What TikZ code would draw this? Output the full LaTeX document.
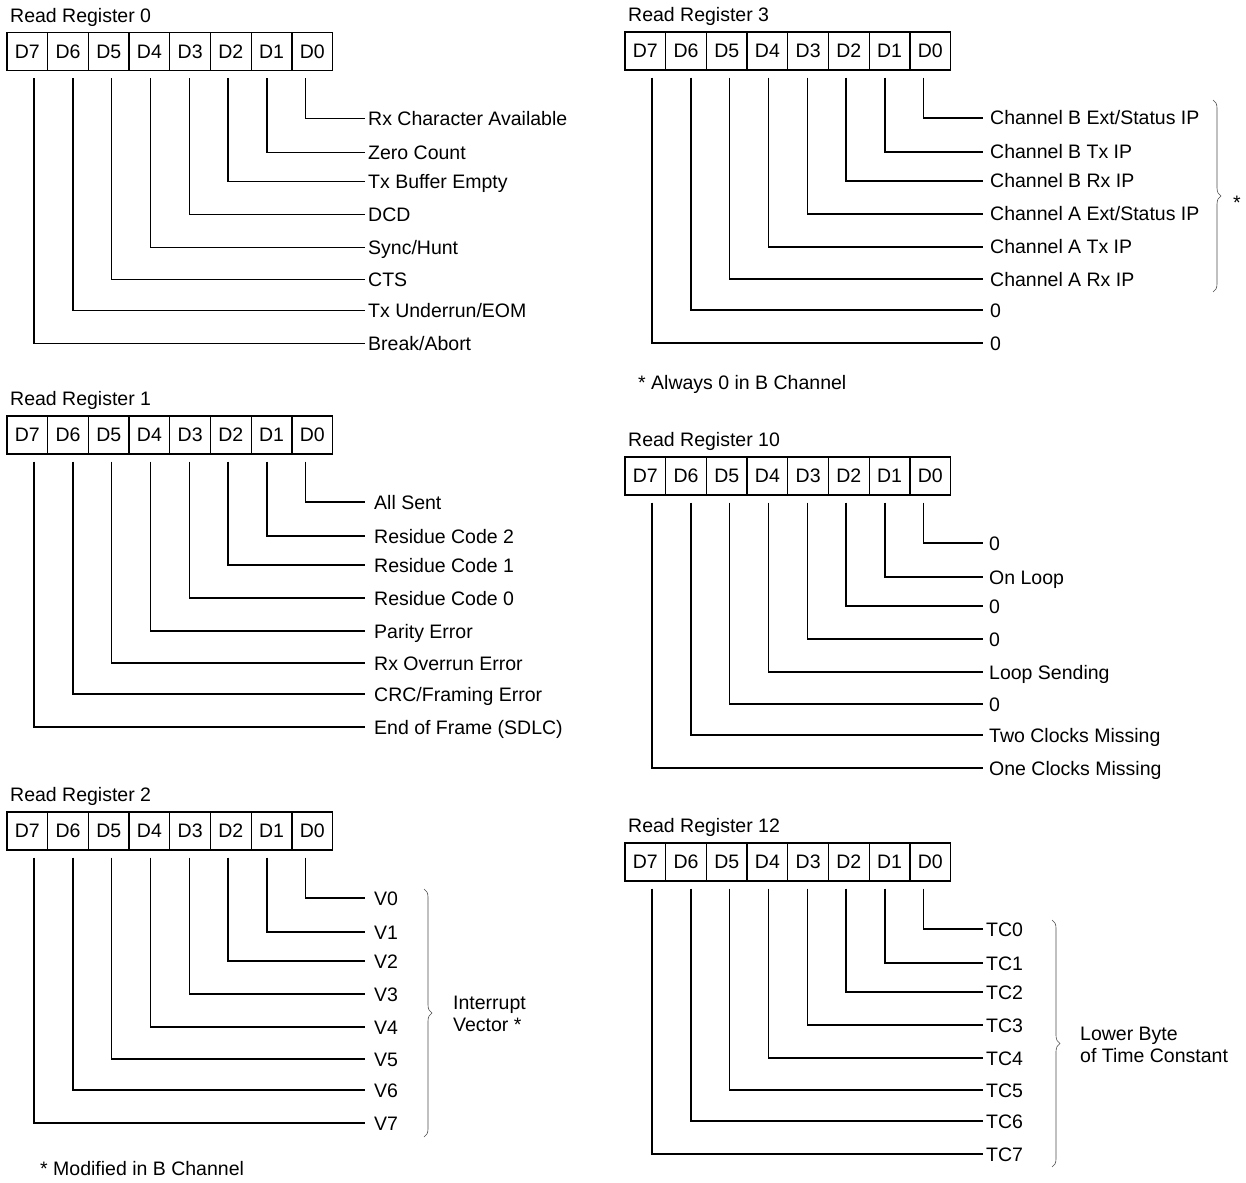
\documentclass[tikz,border=0pt]{standalone}
\usepackage{fontspec}
\setmainfont{Liberation Sans}
\usetikzlibrary{positioning,decorations.pathreplacing}

% one read register: id, x, y of box centre, number, gap, labels D0..D7
\newcommand{\readreg}[6]{%
  \node[regtitle,anchor=base west] (#1t) at (#2+3,#3-29.5) {Read Register #4};
  \foreach \b [count=\i from 0] in {7,...,0}
    \node[cell] (#1d\b) at (#2+20.35+40.7*\i,#3) {D\b};
  \foreach \txt [count=\k from 0] in {#6} {
    \pgfmathsetmacro\off{{67,101,130,163,196,228,259,292}[\k]}
    \node[bitlbl,inner xsep=#5pt] (#1l\k) at (#2+358,#3+\off) {\txt};
    \draw[leg] ([xshift={(\k-3.5)*1.9},yshift=-7pt]#1d\k.south) |- (#1l\k.west);
  }
}

\begin{document}
\begin{tikzpicture}[x=1pt,y=-1pt,
    font=\fontsize{19.5}{22}\selectfont,
    cell/.style={draw,line width=1.3pt,minimum width=40.7pt,minimum height=38pt,
      inner sep=0pt},
    regtitle/.style={inner sep=0pt},
    bitlbl/.style={anchor=west,inner ysep=0pt,text height=14pt,text depth=0pt},
    leg/.style={line width=1.4pt},
    brc/.style={decorate,decoration={brace,amplitude=8pt},
      line width=0.6pt,draw=black!70},
    note/.style={anchor=west,inner sep=0pt,align=left}
  ]
  \useasboundingbox (0,0) rectangle (1246,1182);

  \readreg{ra}{7}{51.6}{0}{3}{Rx Character Available,Zero Count,Tx Buffer Empty,
    DCD,Sync/Hunt,CTS,Tx Underrun/EOM,Break/Abort}
  \readreg{rb}{7}{435}{1}{9}{All Sent,Residue Code 2,Residue Code 1,
    Residue Code 0,Parity Error,Rx Overrun Error,CRC/Framing Error,
    End of Frame (SDLC)}
  \readreg{rc}{7}{831}{2}{9}{V0,V1,V2,V3,V4,V5,V6,V7}
  \readreg{rd}{625}{51}{3}{7}{Channel B Ext/Status IP,Channel B Tx IP,
    Channel B Rx IP,Channel A Ext/Status IP,Channel A Tx IP,Channel A Rx IP,0,0}
  \readreg{re}{625}{476}{10}{6}{0,On Loop,0,0,Loop Sending,0,
    Two Clocks Missing,One Clocks Missing}
  \readreg{rf}{625}{862}{12}{3}{TC0,TC1,TC2,TC3,TC4,TC5,TC6,TC7}

  % braces
  \draw[brc] (1213,100) -- (1213,292);
  \node[note] (star) at (1233,203) {*};
  \draw[brc] (424,889) -- (424,1137);
  \node[note] (intvec) at (453,1014) {Interrupt\\Vector *};
  \draw[brc] (1052,920) -- (1052,1167);
  \node[note] (lowbyte) at (1080,1045) {Lower Byte\\of Time Constant};

  % footnotes
  \node[note] (always) at (638,384) {* Always 0 in B Channel};
  \node[note] (modified) at (40,1169) {* Modified in B Channel};
\end{tikzpicture}
\end{document}
